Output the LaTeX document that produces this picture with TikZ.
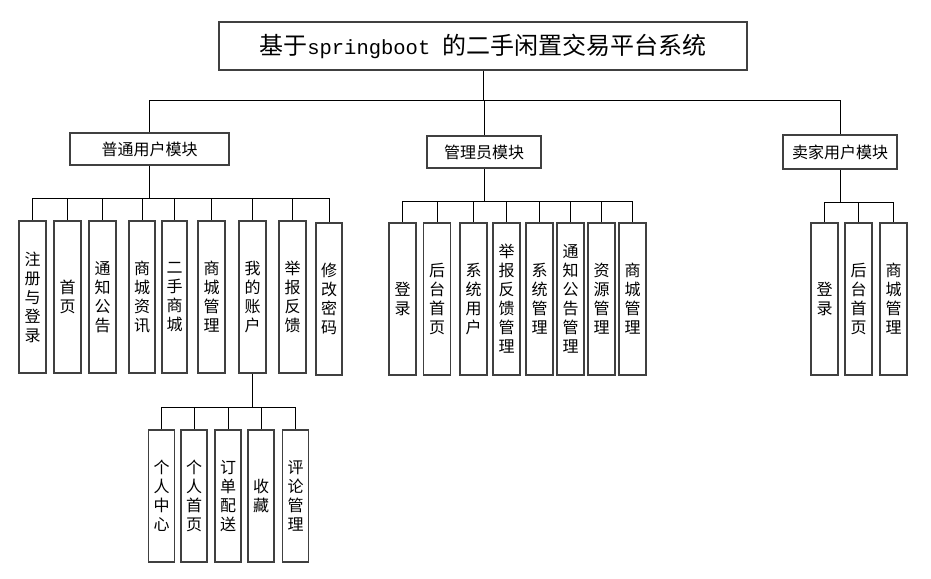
\documentclass[tikz,border=0pt]{standalone}
\usepackage{fontspec}
\setmainfont{Noto Sans CJK SC}
\newfontfamily\latinmono{Liberation Mono}
\usetikzlibrary{positioning}

\begin{document}
\begin{tikzpicture}[
  x=1pt, y=-1pt,            % one unit = one pixel of the reference
  box/.style={draw=black!75, line width=1.1pt, inner sep=0pt, align=center},
  titlebox/.style={box, minimum width=528pt, minimum height=48pt, font=\fontsize{24}{28}\selectfont},
  modbox/.style={box, minimum width=114pt, minimum height=32pt, font=\fontsize{16}{19}\selectfont},
  leaf/.style={box, minimum width=27pt, minimum height=152pt, font=\fontsize{16}{19}\selectfont},
  subleaf/.style={leaf, minimum width=26pt, minimum height=132pt},
  link/.style={draw, line width=0.8pt}
]
  \useasboundingbox (0,0) rectangle (931,578);

  % Root
  \node[titlebox] (title) at (483,46) {基于{\latinmono\fontsize{20.5}{24}\selectfont springboot }的二手闲置交易平台系统};

  % Modules
  \node[modbox, minimum width=159pt] (usr) at (149.5,149) {普通用户模块};
  \node[modbox] (adm) at (484,152) {管理员模块};
  \node[modbox, minimum height=34pt] (sel) at (840,152) {卖家用户模块};

  % Ordinary user
  \node[leaf] (reg)     at (32.5,297)  {注\\册\\与\\登\\录};
  \node[leaf] (home)    at (67.5,297)  {首\\页};
  \node[leaf] (notice)  at (102.5,297) {通\\知\\公\\告};
  \node[leaf, minimum width=26pt] (news)   at (142,297)   {商\\城\\资\\讯};
  \node[leaf, minimum width=25pt] (market) at (174.5,297) {二\\手\\商\\城};
  \node[leaf] (shopmgr) at (211.5,297) {商\\城\\管\\理};
  \node[leaf] (acct)    at (252.5,297) {我\\的\\账\\户};
  \node[leaf] (report)  at (292.5,297) {举\\报\\反\\馈};
  \node[leaf, minimum width=26pt] (passwd) at (329,299)   {修\\改\\密\\码};

  % My account
  \node[subleaf] (center) at (161.5,496) {个\\人\\中\\心};
  \node[subleaf] (phome)  at (194,496)   {个\\人\\首\\页};
  \node[subleaf] (order)  at (228,496)   {订\\单\\配\\送};
  \node[subleaf] (fav)    at (261,496)   {收\\藏};
  \node[subleaf] (review) at (295.5,496) {评\\论\\管\\理};

  % Administrator
  \node[leaf] (alogin)  at (402.5,299) {登\\录};
  \node[leaf] (ahome)   at (437,299)   {后\\台\\首\\页};
  \node[leaf] (auser)   at (473.5,299) {系\\统\\用\\户};
  \node[leaf] (areport) at (506.5,299) {举\\报\\反\\馈\\管\\理};
  \node[leaf] (asys)    at (539.5,299) {系\\统\\管\\理};
  \node[leaf] (anotice) at (570.5,299) {通\\知\\公\\告\\管\\理};
  \node[leaf] (ares)    at (601.5,299) {资\\源\\管\\理};
  \node[leaf] (ashop)   at (632.5,299) {商\\城\\管\\理};

  % Seller
  \node[leaf] (slogin) at (824.5,299) {登\\录};
  \node[leaf] (shome)  at (858.5,299) {后\\台\\首\\页};
  \node[leaf] (sshop)  at (893.5,299) {商\\城\\管\\理};

  % Tree lines
  \draw[link] (title.south) -- ++(0,30) coordinate (tbus);
  \draw[link] (tbus) -| (usr.north);
  \draw[link] (tbus) -| (adm.north);
  \draw[link] (tbus) -| (sel.north);

  \draw[link] (usr.south) -- ++(0,33) coordinate (ubus);
  \draw[link] (ubus) -| (reg.north);
  \draw[link] (ubus) -| (home.north);
  \draw[link] (ubus) -| (notice.north);
  \draw[link] (ubus) -| (news.north);
  \draw[link] (ubus) -| (market.north);
  \draw[link] (ubus) -| (shopmgr.north);
  \draw[link] (ubus) -| (acct.north);
  \draw[link] (ubus) -| (report.north);
  \draw[link] (ubus) -| (passwd.north);

  \draw[link] (acct.south) -- ++(0,34) coordinate (abus);
  \draw[link] (abus) -| (center.north);
  \draw[link] (abus) -| (phome.north);
  \draw[link] (abus) -| (order.north);
  \draw[link] (abus) -| (fav.north);
  \draw[link] (abus) -| (review.north);

  \draw[link] (adm.south) -- ++(0,33) coordinate (mbus);
  \draw[link] (mbus) -| (alogin.north);
  \draw[link] (mbus) -| (ahome.north);
  \draw[link] (mbus) -| (auser.north);
  \draw[link] (mbus) -| (areport.north);
  \draw[link] (mbus) -| (asys.north);
  \draw[link] (mbus) -| (anotice.north);
  \draw[link] (mbus) -| (ares.north);
  \draw[link] (mbus) -| (ashop.north);

  \draw[link] (sel.south) -- ++(0,33) coordinate (sbus);
  \draw[link] (sbus) -| (slogin.north);
  \draw[link] (sbus) -| (shome.north);
  \draw[link] (sbus) -| (sshop.north);
\end{tikzpicture}
\end{document}
